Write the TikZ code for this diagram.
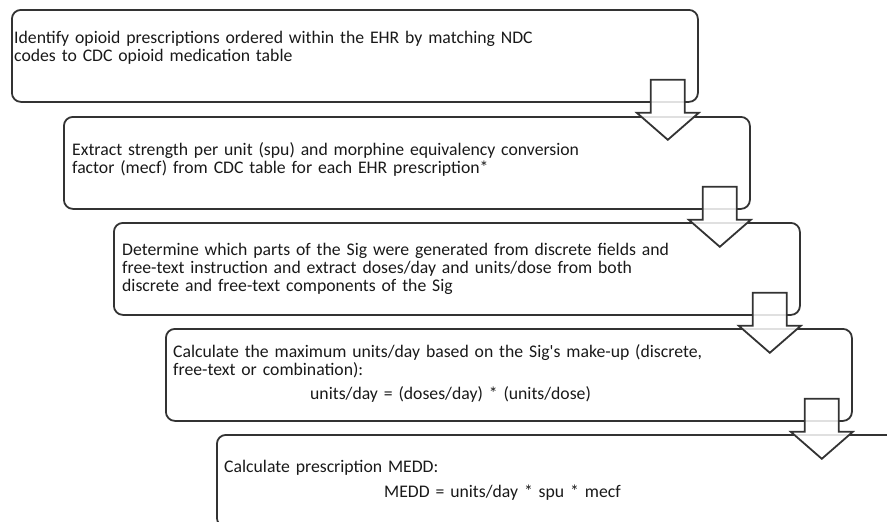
\documentclass[tikz,border=0pt]{standalone}
\usepackage{fontspec}
\setmainfont{Carlito}
\usetikzlibrary{calc}
\newcommand\flowarrow[1]{%
  \draw[blockarrow] ($(#1.south east)+(-48,-23)$) -- ($(#1.south east)+(-14,-23)$)
    -- ($(#1.south east)+(-14,10)$) -- ($(#1.south east)+(0,10)$)
    -- ($(#1.south east)+(-31,37)$) -- ($(#1.south east)+(-62,10)$)
    -- ($(#1.south east)+(-48,10)$) -- cycle;}
\begin{document}
\begin{tikzpicture}[x=1pt,y=-1pt,
  box/.style={draw=black!80, line width=1.8pt, rounded corners=9pt,
    minimum width=686pt, minimum height=92pt, anchor=north west, inner sep=0pt},
  txt/.style={anchor=base west, inner sep=0pt, text width=720pt, align=left,
    font=\fontsize{17.7}{18}\selectfont, text=black!90},
  blockarrow/.style={draw=black!80, line width=1.8pt, fill=white,
    fill opacity=0.85, line join=miter}]
\useasboundingbox (0,0) rectangle (887,522);
\clip (0,0) rectangle (887,522);
\node[box] (b1) at (11,9) {};
\node[box] (b2) at (63,116) {};
\node[box] (b3) at (113,222) {};
\node[box] (b4) at (165,328) {};
\node[box] (b5) at (216,434) {};
\node[txt] (t1) at ($(b1.north west)+(3,34)$)
  {Identify opioid prescriptions ordered within the EHR by matching NDC\\
   codes to CDC opioid medication table};
\node[txt] (t2) at ($(b2.north west)+(9,39)$)
  {Extract strength per unit (spu) and morphine equivalency conversion\\
   factor (mecf) from CDC table for each EHR prescription*};
\node[txt] (t3) at ($(b3.north west)+(9,33)$)
  {Determine which parts of the Sig were generated from discrete fields and\\
   free-text instruction and extract doses/day and units/dose from both\\
   discrete and free-text components of the Sig};
\node[txt] (t4) at ($(b4.north west)+(8,29)$)
  {Calculate the maximum units/day based on the Sig\textquotesingle s make-up (discrete,\\
   free-text or combination):\\[6pt]
   \hspace*{137pt}units/day = (doses/day) * (units/dose)};
\node[txt] (t5) at ($(b5.north west)+(8,38)$)
  {Calculate prescription MEDD:\\[7pt]
   \hspace*{160pt}MEDD = units/day * spu * mecf};
\flowarrow{b1}
\flowarrow{b2}
\flowarrow{b3}
\flowarrow{b4}
\end{tikzpicture}
\end{document}
